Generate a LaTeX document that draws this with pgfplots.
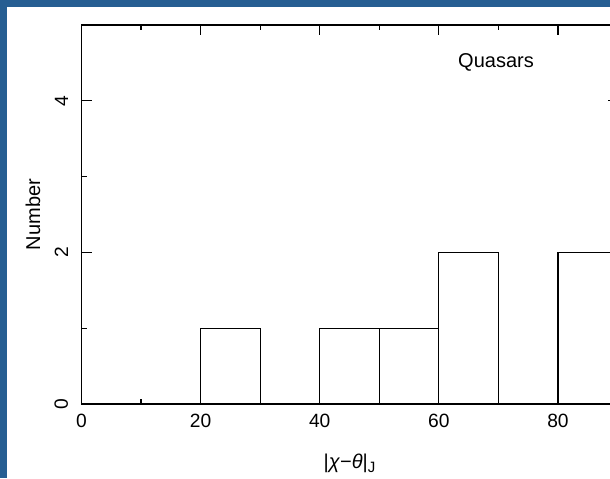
\documentclass[border=0pt]{standalone}
\usepackage{fontspec}
\setmainfont{Liberation Sans}
\usepackage{pgfplots}
\pgfplotsset{compat=1.18}
\definecolor{frameblue}{RGB}{38,94,146}
\begin{document}
\begin{tikzpicture}
\fill[white] (-40.75pt,-37pt) rectangle (264.25pt,202pt);
\begin{scope}
\clip (-40.75pt,-37pt) rectangle (264.25pt,202pt);
\begin{axis}[
  at={(0pt,0pt)}, anchor=south west,
  scale only axis, width=268pt, height=189.5pt,
  xmin=0, xmax=90, ymin=0, ymax=5,
  xtick={0,20,40,60,80}, minor x tick num=1,
  ytick={0,2,4}, minor y tick num=1,
  tick align=inside, xtick pos=both, ytick pos=both,
  major tick length=5pt, minor tick length=2.5pt,
  tick style={black, line width=0.6pt},
  axis line style={line width=0.7pt},
  /pgf/number format/assume math mode=true,
  tick label style={font=\fontsize{9.6}{10}\selectfont},
  yticklabel style={rotate=90, anchor=south},
  xticklabel shift=1.4pt, yticklabel shift=3.2pt,
  xlabel={|\textit{χ}−\textit{θ}|\raisebox{-2pt}{\fontsize{7.5}{8}\selectfont J}},
  ylabel={Number},
  every axis x label/.style={at={([yshift=-29.5pt]axis description cs:0.5,0)}, anchor=center, font=\fontsize{10}{11}\selectfont},
  every axis y label/.style={at={([xshift=-24.25pt]axis description cs:0,0.5)}, rotate=90, anchor=center, font=\fontsize{10}{11}\selectfont},
  clip=false,
]
\addplot[ybar interval, draw=black, fill=none, line width=0.6pt] coordinates {(0,0)(10,0)(20,1)(30,0)(40,1)(50,1)(60,2)(70,0)(80,2)(90,2)};
\node[font=\fontsize{10}{11}\selectfont] at (axis cs:69.6,4.51) {Quasars};
\end{axis}
\end{scope}
\fill[frameblue] (-40.75pt,-37pt) rectangle (-37.25pt,202pt);
\fill[frameblue] (-40.75pt,198.75pt) rectangle (264.25pt,202pt);
\pgfresetboundingbox
\path[use as bounding box] (-40.75pt,-37pt) rectangle (264.25pt,202pt);
\end{tikzpicture}
\end{document}
